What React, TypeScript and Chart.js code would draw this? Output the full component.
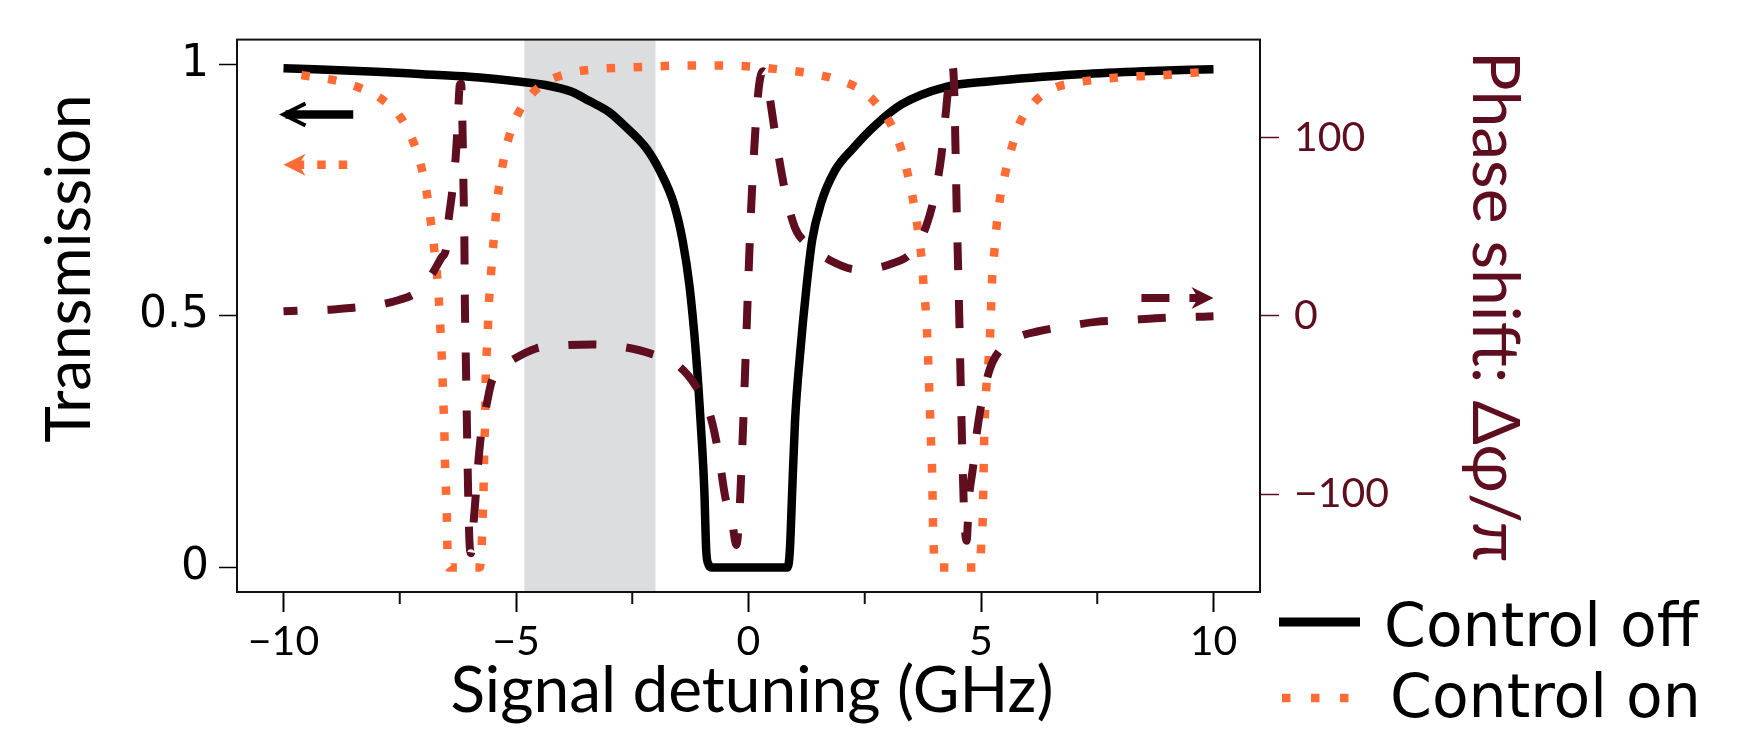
import React, { useEffect, useRef } from 'react';
import { Chart, registerables } from 'chart.js';

Chart.register(...registerables);

// ---------- axes ----------
const X_MIN = -11;
const X_MAX = 11;
const T_MIN = -0.0487;
const T_MAX = 1.0487;
const PHASE_MIN = -154.8;
const PHASE_MAX = 154.8;
const X_TICKS = [-10, -5, 0, 5, 10];
const X_TICK_LABELS = ['\u221210', '\u22125', '0', '5', '10'];
const X_MINOR_TICKS = [-7.5, -2.5, 2.5, 7.5];
const T_TICKS = [0, 0.5, 1];
const T_TICK_LABELS = ['0', '0.5', '1'];
const PHASE_TICKS = [-100, 0, 100];
const PHASE_TICK_LABELS = ['\u2212100', '0', '100'];
const BAND = [-4.82, -2.0];

const X_TITLE = 'Signal detuning (GHz)';
const Y_TITLE = 'Transmission';
const Y2_TITLE = 'Phase shift: \u0394\u03c6/\u03c0';

// ---------- series ----------
const OFF_LABEL = 'Control off';
const OFF_X = [-10, -8, -7, -6, -5, -4.4, -3.8, -3.43, -3, -2.67, -2.19, -1.9, -1.61, -1.42, -1.27, -1.13, -1.03, -0.95, -0.91, -0.86, -0.79,
  0.84, 0.89, 0.94, 1.0, 1.11, 1.25, 1.37, 1.56, 1.85, 2.24, 2.72, 3.29, 4.25, 5.21, 7.13, 8.5, 10];
const OFF_T = [0.992, 0.985, 0.98, 0.975, 0.966, 0.959, 0.945, 0.927, 0.905, 0.878, 0.832, 0.787, 0.724, 0.651, 0.56, 0.425, 0.29, 0.153, 0.035, 0.006, 0,
  0, 0.035, 0.153, 0.29, 0.425, 0.56, 0.651, 0.724, 0.787, 0.832, 0.878, 0.92, 0.955, 0.966, 0.98, 0.986, 0.99];

const ON_LABEL = 'Control on';
const ON_X = [-10, -9.53, -8.96, -8.39, -7.88, -7.48, -7.21, -7.04, -6.92, -6.84, -6.77, -6.7, -6.66, -6.63, -6.6, -6.58, -6.56, -6.54, -6.53, -6.51, -6.49, -6.48, -6.46, -6.45,
  -5.78, -5.74, -5.72, -5.7, -5.69, -5.68, -5.66, -5.655, -5.64, -5.61, -5.59, -5.55, -5.51, -5.46, -5.41, -5.33, -5.23, -5.07, -4.8, -4.39, -3.85, -3.27, -2.7, -2.13, -1.53, -0.5, 0.2,
  0.79, 1.37, 1.95, 2.48, 2.86, 3.15, 3.34, 3.47, 3.58, 3.66, 3.73, 3.77, 3.82, 3.85, 3.87, 3.89, 3.91, 3.93, 3.95, 3.96, 3.97, 3.99, 4.02,
  4.97, 5.01, 5.04, 5.05, 5.06, 5.07, 5.09, 5.12, 5.17, 5.2, 5.22, 5.24, 5.29, 5.34, 5.41, 5.53, 5.67, 5.84, 6.13, 6.56, 7.04, 7.57, 8.15, 8.74, 9.33, 10];
const ON_T = [0.983, 0.977, 0.969, 0.954, 0.93, 0.894, 0.846, 0.797, 0.745, 0.693, 0.641, 0.584, 0.534, 0.482, 0.428, 0.377, 0.323, 0.271, 0.219, 0.166, 0.113, 0.06, 0.007, 0,
  0, 0.039, 0.091, 0.144, 0.196, 0.249, 0.302, 0.354, 0.407, 0.46, 0.513, 0.565, 0.618, 0.671, 0.724, 0.776, 0.827, 0.878, 0.925, 0.962, 0.982, 0.99, 0.993, 0.995, 0.997, 0.997, 0.994,
  0.988, 0.981, 0.968, 0.945, 0.909, 0.864, 0.814, 0.762, 0.71, 0.66, 0.606, 0.554, 0.502, 0.447, 0.398, 0.343, 0.291, 0.237, 0.185, 0.13, 0.078, 0.026, 0,
  0, 0.053, 0.105, 0.158, 0.21, 0.262, 0.316, 0.366, 0.42, 0.472, 0.524, 0.577, 0.63, 0.683, 0.734, 0.787, 0.837, 0.884, 0.923, 0.952, 0.963, 0.97, 0.975, 0.977, 0.981, 0.986];

const PHASE_LABEL = 'Phase shift';
const PHASE_X = [-10, -9.5, -9, -8.5, -8, -7.5, -7.2, -7, -6.8, -6.6, -6.5, -6.45, -6.38, -6.31, -6.27, -6.24, -6.21, -6.18,
  -6.15, -6.13, -6.11, -6.1, -6.08, -6.06, -6.04, -6.02, -6, -5.97, -5.92, -5.86, -5.8, -5.73, -5.64, -5.53, -5.35, -5.14,
  -4.57, -4, -3.35, -2.7, -2.1, -1.5, -1.13, -0.84, -0.65, -0.5, -0.36, -0.26, -0.2, -0.15, -0.1, -0.05, 0, 0.05, 0.11, 0.17, 0.23, 0.31,
  0.38, 0.46, 0.6, 0.79, 1, 1.27, 1.76, 2.33, 3, 3.58, 3.82, 4.01, 4.15, 4.25, 4.32, 4.38, 4.42, 4.45, 4.48, 4.52, 4.56, 4.6, 4.64, 4.69,
  4.74, 4.83, 4.9, 4.98, 5.1, 5.26, 5.69, 6.27, 6.85, 7.47, 8.14, 8.75, 9.35, 10];
const PHASE_Y = [2.5, 3.1, 3.4, 4.5, 5.9, 9.0, 12.1, 16.4, 23.7, 32.7, 38.1, 53.6, 67.7, 84.6, 99.9, 116.2, 129.2, 130.0,
  104.4, 73.3, 42.3, 8.5, -22.6, -53.6, -84.6, -110.0, -126.9, -133.1, -118.5, -98.7, -78.9, -62.1, -50.8, -37.5, -29.6, -25.7,
  -18.3, -16.6, -16.1, -17.5, -21.2, -28.2, -39.5, -54.4, -76.2, -101.6, -114.3, -128.4, -112.8, -84.6, -50.8, -14.1, 22.6, 56.4, 87.5, 112.8, 129.8, 137.1,
  134.0, 121.9, 97.3, 69.4, 49.4, 40.1, 31.0, 26.0, 28.5, 37.5, 50.2, 68.3, 90.3, 115.7, 134.0, 140.8, 129.8, 95.9, 56.4, 14.1, -33.9, -79.0, -112.8, -126.1,
  -103.0, -84.6, -67.7, -53.6, -38.1, -25.4, -13.5, -8.5, -5.9, -3.4, -2.5, -1.4, -0.8, -0.3];

// ---------- axis-indicator arrows (data units) ----------
const ARROW_OFF = { from: -8.5, to: -10, y: 0.9 };
const ARROW_ON = { from: -8.63, to: -10, y: 0.8 };
const ARROW_PHASE = { from: 8.45, to: 10, y: 10 };

// ---------- styles ----------
const BLACK = '#000000';
const ORANGE = '#ff6b35';
const DARKRED = '#5e0e1f';
const BAND_COLOR = '#dcdddf';
const TITLE_FONT = 'Lato, "Open Sans", sans-serif';
const TICK_FONT = 'Lato';
const DV_FONT = '"DejaVu Sans"';

function drawArrow(
  ctx: CanvasRenderingContext2D,
  x0: number,
  x1: number,
  y: number,
  color: string,
  width: number,
  dash: number[],
  head: 'open' | 'stealth'
) {
  const dir = Math.sign(x1 - x0);
  const L = 22;
  const W = 11;
  ctx.save();
  ctx.strokeStyle = color;
  ctx.fillStyle = color;
  ctx.lineWidth = width;
  ctx.lineCap = 'butt';
  ctx.setLineDash(dash);
  const shaftEnd = head === 'open' ? x1 - dir * 2 : x1 - dir * L * 0.7;
  ctx.beginPath();
  ctx.moveTo(x0, y);
  ctx.lineTo(shaftEnd, y);
  ctx.stroke();
  ctx.setLineDash([]);
  if (head === 'open') {
    ctx.lineWidth = 4;
    ctx.lineJoin = 'miter';
    ctx.beginPath();
    ctx.moveTo(x1 - dir * L, y - W);
    ctx.lineTo(x1, y);
    ctx.lineTo(x1 - dir * L, y + W);
    ctx.stroke();
  } else {
    ctx.beginPath();
    ctx.moveTo(x1, y);
    ctx.lineTo(x1 - dir * L, y - W);
    ctx.lineTo(x1 - dir * L * 0.7, y);
    ctx.lineTo(x1 - dir * L, y + W);
    ctx.closePath();
    ctx.fill();
  }
  ctx.restore();
}

const overlay = {
  id: 'overlay',
  beforeDatasetsDraw(chart: any) {
    const { ctx, chartArea: a, scales } = chart;
    const xs = scales.x;
    const x0 = xs.getPixelForValue(BAND[0]);
    const x1 = xs.getPixelForValue(BAND[1]);
    ctx.save();
    ctx.fillStyle = BAND_COLOR;
    ctx.fillRect(x0, a.top, x1 - x0, a.bottom - a.top);
    ctx.restore();
  },
  afterDatasetsDraw(chart: any) {
    const { ctx, scales } = chart;
    const xs = scales.x;
    const ys = scales.y;
    const y2 = scales.y2;
    drawArrow(ctx, xs.getPixelForValue(ARROW_OFF.from), xs.getPixelForValue(ARROW_OFF.to), ys.getPixelForValue(ARROW_OFF.y), BLACK, 8.5, [], 'open');
    drawArrow(ctx, xs.getPixelForValue(ARROW_ON.from), xs.getPixelForValue(ARROW_ON.to), ys.getPixelForValue(ARROW_ON.y), ORANGE, 8.5, [8.5, 13], 'stealth');
    drawArrow(ctx, xs.getPixelForValue(ARROW_PHASE.from), xs.getPixelForValue(ARROW_PHASE.to), y2.getPixelForValue(ARROW_PHASE.y), DARKRED, 8, [28, 20], 'stealth');
  },
  afterDraw(chart: any) {
    const { ctx, chartArea: a, scales } = chart;
    const xs = scales.x;
    ctx.save();
    // frame
    ctx.strokeStyle = '#111';
    ctx.lineWidth = 2;
    ctx.strokeRect(a.left, a.top, a.right - a.left, a.bottom - a.top);
    // minor ticks
    ctx.beginPath();
    for (const v of X_MINOR_TICKS) {
      const px = xs.getPixelForValue(v);
      ctx.moveTo(px, a.bottom);
      ctx.lineTo(px, a.bottom + 12);
    }
    ctx.stroke();

    // titles
    ctx.fillStyle = BLACK;
    ctx.textBaseline = 'alphabetic';
    ctx.textAlign = 'center';
    ctx.font = `64px ${TITLE_FONT}`;
    ctx.fillText(X_TITLE, 752, 712);

    ctx.save();
    ctx.translate(90, 268.5);
    ctx.rotate(-Math.PI / 2);
    ctx.font = `62px ${TITLE_FONT}`;
    ctx.fillText(Y_TITLE, 0, 0);
    ctx.restore();

    ctx.save();
    ctx.translate(1473, 51);
    ctx.rotate(Math.PI / 2);
    ctx.textAlign = 'left';
    ctx.fillStyle = DARKRED;
    ctx.font = `66px ${TITLE_FONT}`;
    ctx.fillText(Y2_TITLE, 0, 0);
    ctx.restore();

    // legend
    const ds = chart.data.datasets;
    ctx.lineCap = 'butt';
    ctx.strokeStyle = ds[0].borderColor;
    ctx.lineWidth = 9;
    ctx.setLineDash([]);
    ctx.beginPath();
    ctx.moveTo(1279, 622);
    ctx.lineTo(1360, 622);
    ctx.stroke();
    ctx.strokeStyle = ds[1].borderColor;
    ctx.lineWidth = 8.5;
    ctx.setLineDash([8.5, 20.5]);
    ctx.beginPath();
    ctx.moveTo(1282, 698);
    ctx.lineTo(1350, 698);
    ctx.stroke();
    ctx.setLineDash([]);
    ctx.fillStyle = BLACK;
    ctx.textAlign = 'left';
    ctx.font = `60px ${DV_FONT}`;
    ctx.fillText(ds[0].label, 1384, 646);
    ctx.fillText(ds[1].label, 1390, 717);
    ctx.restore();
  },
};

export default function App() {
  const ref = useRef<HTMLCanvasElement | null>(null);
  useEffect(() => {
    const canvas = ref.current;
    if (!canvas) return;
    const chart = new Chart(canvas, {
      type: 'line',
      data: {
        datasets: [
          {
            label: OFF_LABEL,
            data: OFF_X.map((x, i) => ({ x, y: OFF_T[i] })),
            yAxisID: 'y',
            borderColor: BLACK,
            borderWidth: 8.5,
            pointRadius: 0,
            borderJoinStyle: 'round',
            cubicInterpolationMode: 'monotone',
            order: 3,
          },
          {
            label: ON_LABEL,
            data: ON_X.map((x, i) => ({ x, y: ON_T[i] })),
            yAxisID: 'y',
            borderColor: ORANGE,
            borderWidth: 8.5,
            borderDash: [8.5, 18.5],
            borderDashOffset: 9,
            pointRadius: 0,
            cubicInterpolationMode: 'monotone',
            order: 2,
          },
          {
            label: PHASE_LABEL,
            data: PHASE_X.map((x, i) => ({ x, y: PHASE_Y[i] })),
            yAxisID: 'y2',
            borderColor: DARKRED,
            borderWidth: 8,
            borderDash: [28, 30],
            borderDashOffset: 14,
            pointRadius: 0,
            cubicInterpolationMode: 'monotone',
            order: 1,
          },
        ] as any,
      },
      options: {
        responsive: false,
        animation: false,
        devicePixelRatio: 1,
        layout: { padding: { top: 28, left: 0, right: 0, bottom: 0 } },
        plugins: { legend: { display: false }, tooltip: { enabled: false } },
        scales: {
          x: {
            type: 'linear',
            min: X_MIN,
            max: X_MAX,
            afterBuildTicks: (s: any) => {
              s.ticks = X_TICKS.map((v) => ({ value: v }));
            },
            afterFit: (s: any) => {
              s.height = 137;
            },
            ticks: {
              autoSkip: false,
              maxRotation: 0,
              minRotation: 0,
              padding: 5,
              color: BLACK,
              font: { family: TICK_FONT, size: 41 },
              callback: (_v: any, i: number) => X_TICK_LABELS[i],
            },
            grid: { drawOnChartArea: false, tickLength: 20, tickWidth: 2, tickColor: BLACK },
            border: { display: false },
          },
          y: {
            type: 'linear',
            position: 'left',
            min: T_MIN,
            max: T_MAX,
            afterBuildTicks: (s: any) => {
              s.ticks = T_TICKS.map((v) => ({ value: v }));
            },
            afterFit: (s: any) => {
              s.width = 237;
            },
            ticks: {
              autoSkip: false,
              padding: 10,
              color: BLACK,
              font: { family: 'DejaVu Sans', size: 44 },
              callback: (_v: any, i: number) => T_TICK_LABELS[i],
            },
            grid: { drawOnChartArea: false, tickLength: 18, tickWidth: 1.5, tickColor: BLACK },
            border: { display: false },
          },
          y2: {
            type: 'linear',
            position: 'right',
            min: PHASE_MIN,
            max: PHASE_MAX,
            afterBuildTicks: (s: any) => {
              s.ticks = PHASE_TICKS.map((v) => ({ value: v }));
            },
            afterFit: (s: any) => {
              s.width = 500;
            },
            ticks: {
              autoSkip: false,
              padding: 15,
              color: DARKRED,
              font: { family: TICK_FONT, size: 41 },
              callback: (_v: any, i: number) => PHASE_TICK_LABELS[i],
            },
            grid: { drawOnChartArea: false, tickLength: 19, tickWidth: 1.5, tickColor: DARKRED },
            border: { display: false },
          },
        },
      } as any,
      plugins: [overlay],
    });
    return () => chart.destroy();
  }, []);

  return (
    <div style={{ position: 'absolute', left: 0, top: 0, width: 1760, height: 729, background: '#ffffff' }}>
      <canvas ref={ref} width={1760} height={729} style={{ display: 'block', width: 1760, height: 729 }} />
    </div>
  );
}
